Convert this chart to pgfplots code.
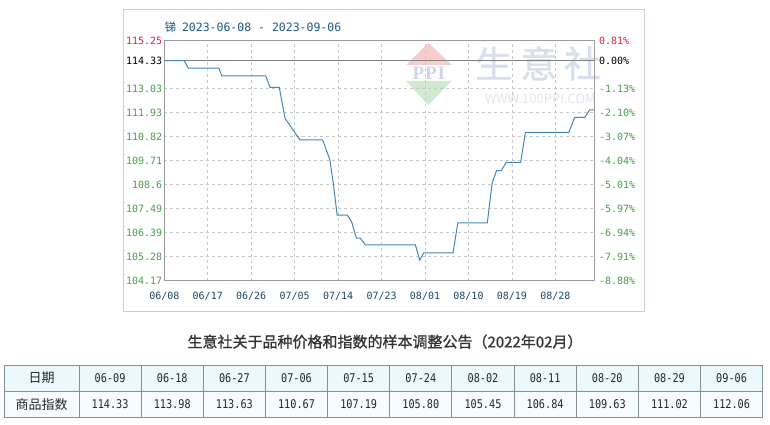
\documentclass[border=0pt]{standalone}
\usepackage{fontspec}
\usepackage{pgfplots}
\pgfplotsset{compat=1.18}
\setmainfont{Noto Sans CJK SC}
\newfontfamily\cjk{Noto Sans CJK SC}
\newfontfamily\cjkb[FakeBold=1.2]{Noto Sans CJK SC}
\newfontfamily\mono{DejaVu Sans Mono}
\newfontfamily\tnum[FakeStretch=0.85]{DejaVu Sans Mono}
\newfontfamily\serifb{Liberation Serif}

\definecolor{linecol}{RGB}{65,135,185}
\definecolor{gridcol}{RGB}{200,200,200}
\definecolor{framecol}{RGB}{155,155,155}
\definecolor{basecol}{RGB}{130,130,130}
\definecolor{outercol}{RGB}{200,205,222}
\definecolor{grn}{RGB}{70,160,70}
\definecolor{rd}{RGB}{210,40,60}
\definecolor{xcol}{RGB}{30,70,100}
\definecolor{titlecol}{RGB}{30,90,125}
\definecolor{tabhead}{RGB}{236,248,252}
\definecolor{tabrow}{RGB}{246,252,254}
\definecolor{tabline}{RGB}{130,145,150}
\definecolor{wmpink}{RGB}{246,205,205}
\definecolor{wmgreen}{RGB}{208,234,208}
\definecolor{wmppi}{RGB}{205,214,232}
\definecolor{wmtext}{RGB}{216,222,235}
\definecolor{wmurl}{RGB}{226,229,236}
\definecolor{anntitle}{RGB}{51,51,51}

\begin{document}
\begin{tikzpicture}
\path[use as bounding box] (0pt,0pt) rectangle (770pt,-425pt);

% frame and watermark
\begin{scope}[x=1pt,y=-1pt]
\draw[outercol, line width=1pt] (123,10) rectangle (644,311);
\fill[wmpink] (428.3,42.7) -- (406,65) -- (451.7,65) -- cycle;
\fill[wmgreen] (406,81) -- (451.7,81) -- (428.3,105) -- cycle;
\node[text=wmppi, font=\serifb\bfseries\fontsize{19}{19}\selectfont, inner sep=0pt] at (428.8,73.3) {P\kern1pt P\kern1pt I};
\foreach \c/\xx in {生/493.7,意/539,社/582.5}
  \node[text=wmtext, font=\cjkb\fontsize{37}{37}\selectfont] at (\xx,63.3) {\c};
\node[text=wmurl, font=\fontsize{13}{13}\selectfont] at (540.3,98.3) {WWW.100PPI.COM};
\node[anchor=west, inner sep=0pt, text=titlecol, font=\fontsize{11.5}{12}\selectfont] at (164.3,26.7) {{\cjk 锑}\hspace{6pt}{\mono 2023-06-08 - 2023-09-06}};
\end{scope}

\begin{axis}[
  at={(164.3pt,-280.7pt)}, anchor=south west,
  scale only axis, width=429.7pt, height=240pt,
  xmin=0, xmax=89, ymin=104.17, ymax=115.25,
  xtick={0,9,...,81},
  xticklabels={06/08,06/17,06/26,07/05,07/14,07/23,08/01,08/10,08/19,08/28},
  ytick={104.17,105.28,106.39,107.49,108.6,109.71,110.82,111.93,113.03,114.33,115.25},
  yticklabels={\textcolor{grn}{104.17},\textcolor{grn}{105.28},\textcolor{grn}{106.39},\textcolor{grn}{107.49},\textcolor{grn}{108.6},\textcolor{grn}{109.71},\textcolor{grn}{110.82},\textcolor{grn}{111.93},\textcolor{grn}{113.03},\textcolor{black}{114.33},\textcolor{rd}{115.25}},
  grid=major, grid style={dashed, gridcol, line width=0.6pt},
  major tick length=0pt,
  axis line style={framecol, line width=0.8pt},
  tick label style={font=\mono\fontsize{10}{12}\selectfont},
  xticklabel style={text=xcol, yshift=-8pt},
  yticklabel style={xshift=1.5pt},
  clip=false,
]
\addplot[draw=basecol, line width=0.9pt] coordinates {(0,114.33) (89,114.33)};
\addplot[draw=linecol, line width=1pt] coordinates {
  (0,114.33) (4.1,114.33) (5,113.98) (11.3,113.98) (11.9,113.63) (21,113.63)
  (21.9,113.10) (23.8,113.10) (24.3,112.51) (25.0,111.67) (28.1,110.67)
  (32.8,110.67) (34.3,109.74) (35.0,108.67) (35.8,107.2) (37.9,107.2)
  (38.8,106.89) (39.8,106.13) (40.6,106.13) (41.7,105.82) (52.0,105.82)
  (52.9,105.12) (53.7,105.45) (59.8,105.45) (60.8,106.84) (66.9,106.84)
  (67.9,108.67) (68.8,109.25) (69.8,109.25) (70.8,109.63) (73.8,109.63)
  (74.8,111.02) (83.8,111.02) (85,111.71) (87.1,111.71) (88.1,112.06) (89,112.06)};
\end{axis}

\begin{axis}[
  at={(164.3pt,-280.7pt)}, anchor=south west,
  scale only axis, width=429.7pt, height=240pt,
  xmin=0, xmax=89, ymin=104.17, ymax=115.25,
  hide x axis, axis y line*=right,
  ytick={104.17,105.28,106.39,107.49,108.6,109.71,110.82,111.93,113.03,114.33,115.25},
  yticklabels={\textcolor{grn}{-8.88\%},\textcolor{grn}{-7.91\%},\textcolor{grn}{-6.94\%},\textcolor{grn}{-5.97\%},\textcolor{grn}{-5.01\%},\textcolor{grn}{-4.04\%},\textcolor{grn}{-3.07\%},\textcolor{grn}{-2.10\%},\textcolor{grn}{-1.13\%},\textcolor{black}{0.00\%},\textcolor{rd}{0.81\%}},
  major tick length=0pt,
  axis line style={framecol, line width=0.8pt},
  tick label style={font=\mono\fontsize{10}{12}\selectfont},
  yticklabel style={xshift=1.5pt},
]
\addplot[draw=none] coordinates {(0,114.33) (89,114.33)};
\end{axis}

% announcement title and table
\begin{scope}[x=1pt,y=-1pt]
\node[text=anntitle, font=\cjkb\fontsize{15}{15}\selectfont] at (385,341.7) {生意社关于品种价格和指数的样本调整公告（2022年02月）};
\fill[tabhead] (4.3,365) rectangle (762.7,391);
\fill[tabrow] (4.3,391) rectangle (762.7,417.3);
\draw[tabline, line width=1pt] (4.3,365) rectangle (762.7,417.3);
\draw[tabline, line width=1pt] (4.3,391) -- (762.7,391);
\node[font=\cjk\fontsize{13}{13}\selectfont, text=black!85] at (41.65,378) {日期};
\node[font=\cjk\fontsize{13}{13}\selectfont, text=black!85] at (41.65,404.2) {商品指数};
\foreach \d/\v [count=\i from 0] in {06-09/114.33,06-18/113.98,06-27/113.63,07-06/110.67,07-15/107.19,07-24/105.80,08-02/105.45,08-11/106.84,08-20/109.63,08-29/111.02,09-06/112.06} {
  \draw[tabline, line width=1pt] ({79+62.15*\i},365) -- ({79+62.15*\i},417.3);
  \node[font=\tnum\fontsize{12}{13}\selectfont, text=black!85] at ({79+62.15*(\i+0.5)},378) {\d};
  \node[font=\tnum\fontsize{12}{13}\selectfont, text=black!85] at ({79+62.15*(\i+0.5)},404.2) {\v};
}
\end{scope}
\end{tikzpicture}
\end{document}
